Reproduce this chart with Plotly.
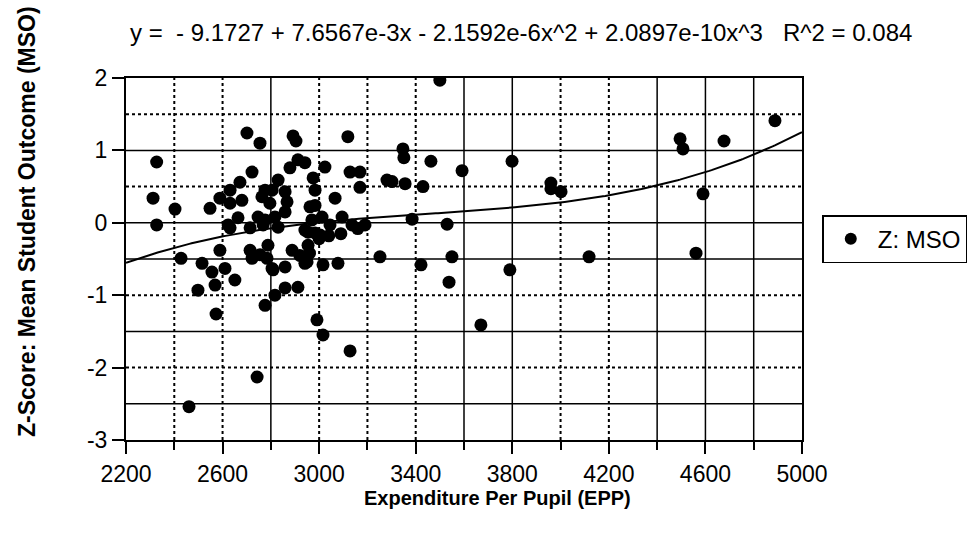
import plotly.graph_objects as go
import numpy as np

# ---- data ----
epp = [3500, 3347, 3351, 3463, 3592, 3799, 3302, 3356, 3430, 3960, 3960, 4002, 3385, 3530,
       3422, 3550, 3538, 3790, 4118, 3670, 4495, 4507, 4677, 4888, 4590, 4561,
       2312, 2327, 2327, 2403, 2428, 2461,
       2701, 2755, 2722, 2672, 2631, 2589, 2548, 2631, 2680, 2763, 2776, 2664, 2623, 2747, 2768,
       2892, 2904, 3119, 2912, 2941, 2879, 3024, 3128, 3169, 3281, 2830, 2975, 2983, 2859, 3169,
       3066, 2867, 2805, 2796, 2983, 2962, 3095, 3012, 2970, 2859, 2817, 2776, 3190, 3136, 3045,
       2941, 2983, 2830,
       2631, 2714, 2589, 2714, 2755, 2515, 2556, 2610, 2651, 2569, 2498, 2776, 2573, 2784,
       2788, 2888, 2950, 3016, 3078, 3252, 2805, 2859, 2859, 2912, 2817, 2991, 3016, 3128,
       2954, 3004, 2954, 2743, 2722, 2809, 2941,
       3000, 3040, 3090, 2920, 2960, 3160]
mso = [1.97, 1.02, 0.90, 0.85, 0.72, 0.85, 0.57, 0.54, 0.50, 0.55, 0.47, 0.43, 0.05, -0.02,
       -0.58, -0.47, -0.82, -0.65, -0.47, -1.41, 1.16, 1.02, 1.13, 1.41, 0.40, -0.42,
       0.34, 0.84, -0.03, 0.19, -0.49, -2.54,
       1.24, 1.10, 0.70, 0.56, 0.45, 0.34, 0.20, 0.27, 0.31, 0.36, 0.45, 0.07, -0.03, 0.08, -0.03,
       1.20, 1.13, 1.19, 0.87, 0.83, 0.76, 0.77, 0.70, 0.70, 0.59, 0.59, 0.62, 0.45, 0.43, 0.49,
       0.34, 0.29, 0.45, 0.27, 0.24, 0.22, 0.08, 0.08, 0.04, 0.15, 0.08, 0.04, -0.03, -0.03, -0.03,
       -0.10, -0.14, -0.06,
       -0.07, -0.07, -0.38, -0.38, -0.44, -0.56, -0.68, -0.63, -0.79, -0.86, -0.93, -1.14, -1.26, -0.49,
       -0.31, -0.38, -0.54, -0.58, -0.56, -0.47, -0.63, -0.61, -0.90, -0.89, -1.00, -1.34, -1.55, -1.77,
       -0.13, -0.17, -0.31, -2.13, -0.49, -0.65, -0.56,
       -0.22, -0.18, -0.15, -0.45, -0.42, -0.08]

# fitted trend line coefficients as printed on the chart
coef = [-9.1727, 7.6567e-3, -2.1592e-6, 2.0897e-10]
x_ticks = [2200, 2600, 3000, 3400, 3800, 4200, 4600, 5000]
y_ticks = [2, 1, 0, -1, -2, -3]
title_text = "y =  - 9.1727 + 7.6567e-3x - 2.1592e-6x^2 + 2.0897e-10x^3   R^2 = 0.084"

FONT = "Liberation Sans, Arial, sans-serif"

xs = np.linspace(2200, 5000, 300)
ys = coef[0] + coef[1] * xs + coef[2] * xs ** 2 + coef[3] * xs ** 3

fig = go.Figure()
fig.add_trace(go.Scatter(x=xs, y=ys, mode="lines", line=dict(color="black", width=2),
                         showlegend=False, hoverinfo="skip"))
fig.add_trace(go.Scatter(x=epp, y=mso, mode="markers", name="Z: MSO",
                         marker=dict(color="black", size=13, line=dict(width=0))))

shapes = []
x_grid = [(2400, "dot"), (2600, "dot"), (2800, "solid"), (3000, "dot"), (3200, "dot"),
          (3400, "dot"), (3600, "solid"), (3800, "solid"), (4000, "dot"), (4200, "dot"),
          (4400, "solid"), (4600, "solid"), (4800, "solid")]
y_grid = [(1.5, "dot"), (1, "solid"), (0.5, "dot"), (0, "solid"), (-0.5, "solid"),
          (-1, "dot"), (-1.5, "solid"), (-2, "dot"), (-2.5, "solid")]
for gx, d in x_grid:
    shapes.append(dict(type="line", xref="x", yref="paper", x0=gx, x1=gx, y0=0, y1=1,
                       line=dict(color="black", width=1.5 if d == "solid" else 2, dash=d), layer="below"))
for gy, d in y_grid:
    shapes.append(dict(type="line", xref="paper", yref="y", x0=0, x1=1, y0=gy, y1=gy,
                       line=dict(color="black", width=1.5 if d == "solid" else 2, dash=d), layer="below"))

fig.update_layout(
    width=974, height=542,
    margin=dict(l=126, r=172, t=78, b=102, autoexpand=False),
    plot_bgcolor="white", paper_bgcolor="white",
    font=dict(family=FONT, color="black", size=23),
    shapes=shapes,
    showlegend=True,
    legend=dict(x=1.03, y=0.555, xanchor="left", yanchor="middle",
                bordercolor="black", borderwidth=1.5, bgcolor="white",
                font=dict(family=FONT, size=24), itemsizing="constant", itemwidth=44),
    xaxis=dict(range=[2200, 5000], tickmode="array", tickvals=x_ticks,
               ticktext=[str(v) for v in x_ticks], showgrid=False, zeroline=False,
               showline=True, linecolor="black", linewidth=2, mirror=True,
               ticks="outside", ticklen=12, tickwidth=1.5, tickcolor="black",
               minor=dict(dtick=200, tick0=2200, ticks="outside", ticklen=8, tickcolor="black", showgrid=False),
               tickfont=dict(size=23)),
    yaxis=dict(range=[-3, 2], tickmode="array", tickvals=y_ticks,
               ticktext=[str(v) for v in y_ticks], showgrid=False, zeroline=False,
               showline=True, linecolor="black", linewidth=2, mirror=True,
               ticks="outside", ticklen=12, tickwidth=1.5, tickcolor="black",
               tickfont=dict(size=23)),
    annotations=[
        dict(text=title_text, xref="paper", yref="paper", x=(128 - 126) / 676, y=1 + (78 - 33) / 362,
             xanchor="left", yanchor="middle", showarrow=False, font=dict(size=24, family=FONT)),
        dict(text="<b>Expenditure Per Pupil (EPP)</b>", xref="paper", yref="paper",
             x=(497 - 126) / 676, y=-(498 - 440) / 362, xanchor="center", yanchor="middle",
             showarrow=False, font=dict(size=20, family=FONT)),
        dict(text="<b>Z-Score: Mean Student Outcome (MSO)</b>", xref="paper", yref="paper",
             x=-(126 - 27) / 676, y=(440 - 222) / 362, xanchor="center", yanchor="middle",
             textangle=-90, showarrow=False, font=dict(size=23, family=FONT)),
    ],
)

fig.write_html("out.html")
